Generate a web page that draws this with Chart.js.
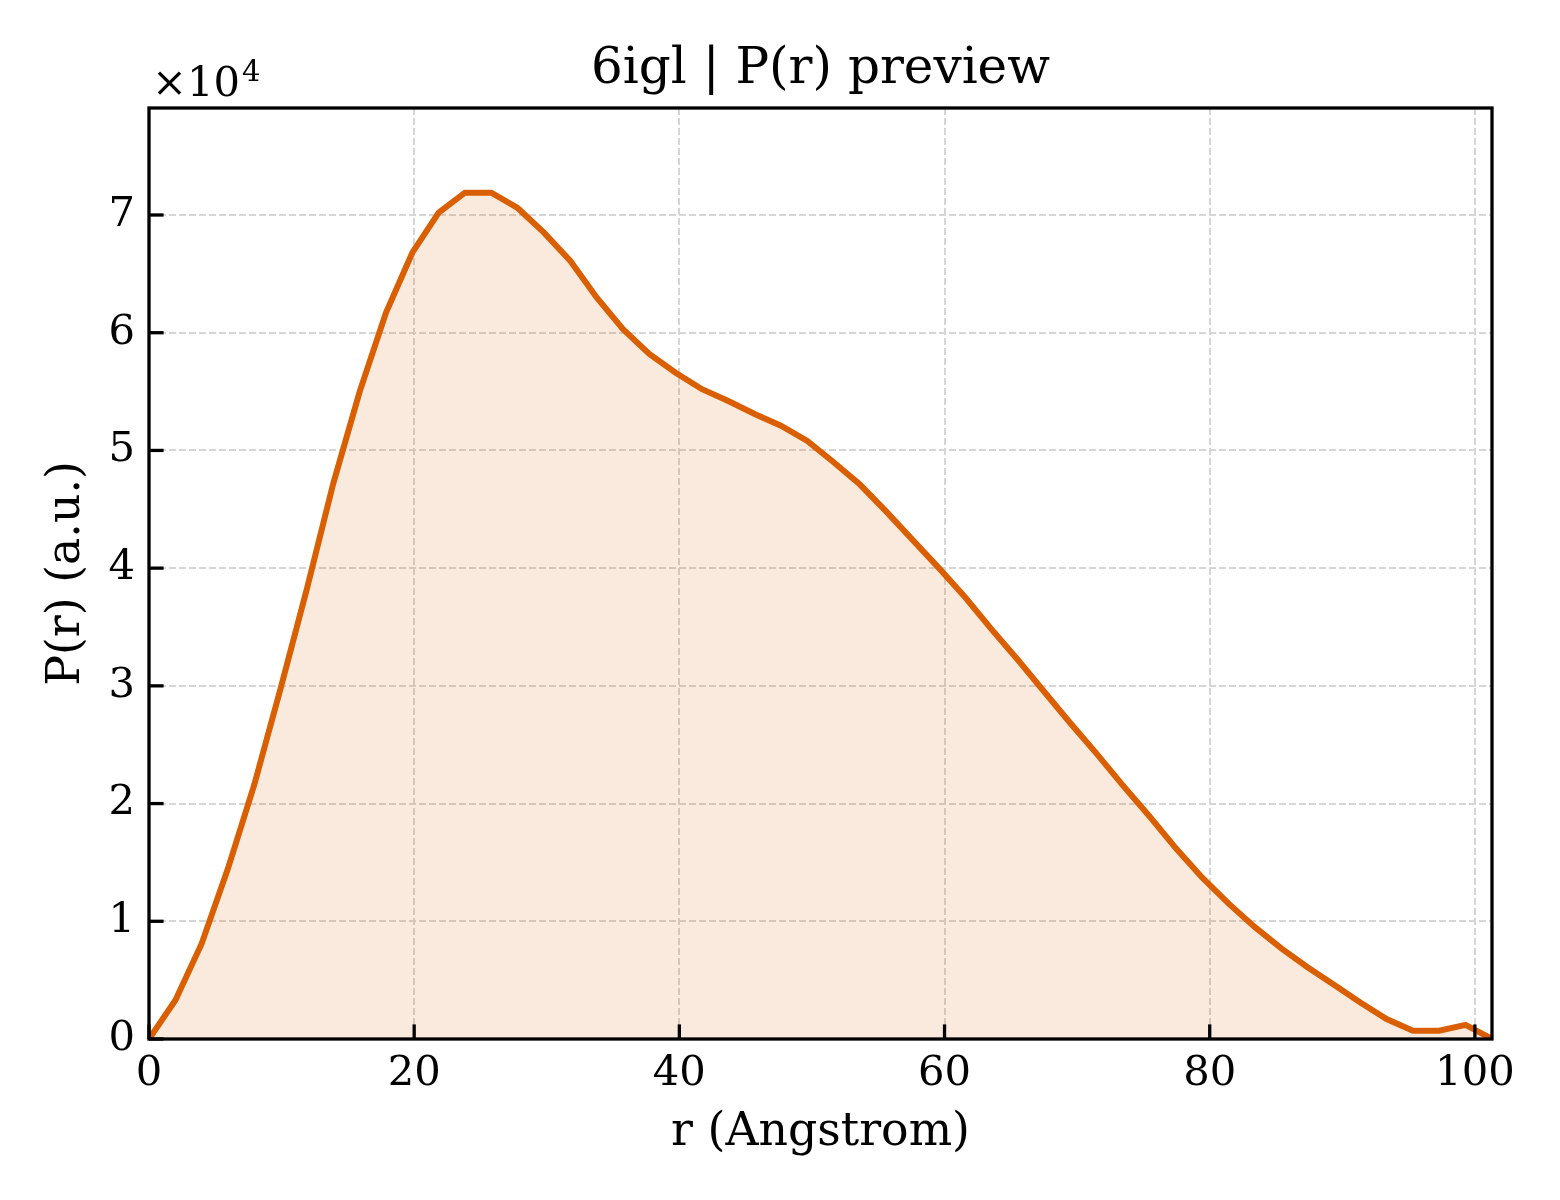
<!DOCTYPE html>
<html>
<head>
<meta charset="utf-8">
<title>6igl | P(r) preview</title>
<script src="https://cdn.jsdelivr.net/npm/chart.js@4/dist/chart.umd.min.js"></script>
<style>
    body { margin: 0; background: #ffffff; }
    #pr-chart { display: block; }
</style>
</head>
<body>
<canvas id="pr-chart" width="1560" height="1200"></canvas>
<script>
// P(r) data =========================================================//

const rValues = [0, 1.99, 3.97, 5.96, 7.94, 9.93, 11.92, 13.9, 15.89, 17.87,
    19.86, 21.85, 23.83, 25.82, 27.8, 29.79, 31.78, 33.76, 35.75, 37.73,
    39.72, 41.71, 43.69, 45.68, 47.66, 49.65, 51.64, 53.62, 55.61, 57.59,
    59.58, 61.57, 63.55, 65.54, 67.52, 69.51, 71.5, 73.48, 75.47, 77.45,
    79.44, 81.43, 83.41, 85.4, 87.38, 89.37, 91.36, 93.34, 95.33, 97.31,
    99.3, 101.29];

const prValues = [0, 3300, 8100, 14500, 21600, 29800, 38300, 47200, 55000, 61700,
    66800, 70200, 71900, 71900, 70600, 68500, 66100, 63000, 60300, 58200,
    56600, 55200, 54200, 53100, 52100, 50800, 49000, 47100, 44800, 42400,
    40000, 37500, 34800, 32200, 29500, 26800, 24200, 21500, 18900, 16200,
    13700, 11500, 9500, 7700, 6100, 4600, 3100, 1700, 700, 700,
    1200, 0];

const xTicks = [0, 20, 40, 60, 80, 100];
const yTicks = [0, 10000, 20000, 30000, 40000, 50000, 60000, 70000];
const yScaleFactor = 1e4;

const TITLE = '6igl | P(r) preview';
const X_LABEL = 'r (Angstrom)';
const Y_LABEL = 'P(r) (a.u.)';

// P(r) data =========================================================//


const SERIF = "'DejaVu Serif', 'Liberation Serif', serif";
const LINE_COLOR = '#d95f02';
const FILL_COLOR = 'rgba(217, 95, 2, 0.13)';
const GRID_COLOR = '#d6d6d6';

Chart.defaults.color = '#000000';
Chart.defaults.font.family = SERIF;

const points = rValues.map((r, i) => ({ x: r, y: prValues[i] }));
const xMax = rValues[rValues.length - 1];
const yMax = Math.max(...prValues) * 1.1;


// frame, inward ticks and the x10^4 offset text
const framePlugin = {
    id: 'frame',
    afterDatasetsDraw(chart) {
        const ctx = chart.ctx;
        const area = chart.chartArea;
        const xs = chart.scales.x;
        const ys = chart.scales.y;

        ctx.save();
        ctx.strokeStyle = '#000000';
        ctx.lineWidth = 3.3;

        xs.ticks.forEach(t => {
            const px = xs.getPixelForValue(t.value);
            ctx.beginPath();
            ctx.moveTo(px, area.bottom);
            ctx.lineTo(px, area.bottom - 14.6);
            ctx.stroke();
        });
        ys.ticks.forEach(t => {
            const py = ys.getPixelForValue(t.value);
            ctx.beginPath();
            ctx.moveTo(area.left, py);
            ctx.lineTo(area.left + 14.6, py);
            ctx.stroke();
        });

        ctx.lineJoin = 'miter';
        ctx.strokeRect(area.left, area.top, area.right - area.left, area.bottom - area.top);

        ctx.fillStyle = '#000000';
        ctx.textBaseline = 'alphabetic';
        ctx.textAlign = 'left';
        ctx.font = '41.7px ' + SERIF;
        const base = '\u00d710';
        ctx.fillText(base, area.left + 3, 96);
        const w = ctx.measureText(base).width;
        ctx.font = '29px ' + SERIF;
        ctx.fillText('4', area.left + 3 + w + 2, 81);
        ctx.restore();
    }
};


const prConfig = {
    type: 'line',
    data: {
        datasets: [{
            label: 'P(r)',
            data: points,
            borderColor: LINE_COLOR,
            backgroundColor: FILL_COLOR,
            borderWidth: 6,
            fill: 'origin',
            pointRadius: 0,
            tension: 0
        }]
    },
    options: {
        responsive: false,
        animation: false,
        devicePixelRatio: 1,
        layout: {
            padding: { left: 0, right: 68, top: 0, bottom: 0 }
        },
        plugins: {
            legend: { display: false },
            tooltip: { enabled: false },
            title: {
                display: true,
                text: TITLE,
                fullSize: false,
                color: '#000000',
                font: { family: SERIF, size: 50, weight: 'normal', lineHeight: 1.2 },
                padding: { top: 40, bottom: 8 }
            }
        },
        scales: {
            x: {
                type: 'linear',
                bounds: 'data',
                min: 0,
                max: xMax,
                border: { display: false, dash: [7, 3] },
                grid: {
                    color: GRID_COLOR,
                    lineWidth: 2,
                    drawTicks: false
                },
                ticks: {
                    maxRotation: 0,
                    padding: 10,
                    color: '#000000',
                    font: { family: SERIF, size: 41.7 }
                },
                title: {
                    display: true,
                    text: X_LABEL,
                    color: '#000000',
                    font: { family: SERIF, size: 45.8, lineHeight: 1.2 },
                    padding: { top: 0, bottom: 39.5 }
                },
                afterBuildTicks(scale) {
                    scale.ticks = xTicks.map(v => ({ value: v }));
                },
                afterFit(scale) {
                    scale.height = 161;
                }
            },
            y: {
                type: 'linear',
                bounds: 'data',
                min: 0,
                max: yMax,
                border: { display: false, dash: [7, 3] },
                grid: {
                    color: GRID_COLOR,
                    lineWidth: 2,
                    drawTicks: false
                },
                ticks: {
                    padding: 14,
                    color: '#000000',
                    font: { family: SERIF, size: 41.7 },
                    callback: v => String(Math.round(v / yScaleFactor))
                },
                title: {
                    display: true,
                    text: Y_LABEL,
                    color: '#000000',
                    font: { family: SERIF, size: 45.8, lineHeight: 1.2 },
                    padding: { top: 39.5, bottom: 0 }
                },
                afterBuildTicks(scale) {
                    scale.ticks = yTicks.map(v => ({ value: v }));
                },
                afterFit(scale) {
                    scale.width = 149;
                }
            }
        }
    },
    plugins: [framePlugin]
};

const prCanvas = document.getElementById('pr-chart');
const prChart = new Chart(prCanvas, prConfig);
</script>
</body>
</html>
